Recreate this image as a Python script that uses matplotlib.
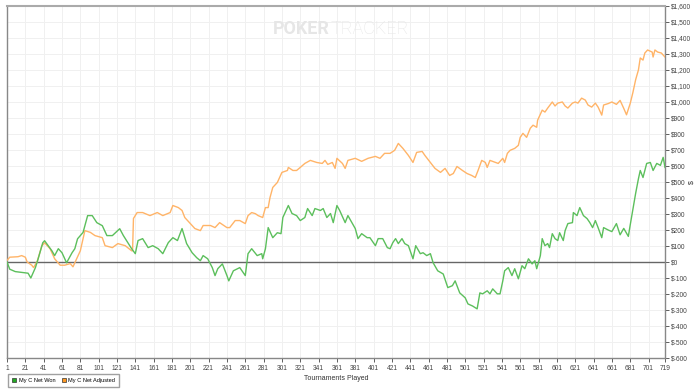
import matplotlib.pyplot as plt
from matplotlib.patches import Patch
from matplotlib.ticker import FuncFormatter

# tournament number / running result for each series
won_t = [1, 4, 10, 17, 24, 27, 32, 35, 40, 42, 50, 53, 57, 61, 66, 72, 75, 78, 84, 89,
         94, 99, 105, 110, 116, 124, 128, 135, 137, 141, 144, 149, 155, 160, 166, 171, 177, 182, 187, 192,
         197, 203, 208, 212, 215, 220, 225, 228, 231, 236, 241, 243, 248, 255, 261, 264, 268, 274, 279, 280,
         283, 286, 291, 296, 300, 302, 308, 312, 317, 321, 326, 329, 334, 337, 343, 346, 350, 354, 357, 361,
         364, 370, 373, 381, 384, 388, 394, 397, 403, 406, 411, 416, 419, 422, 425, 428, 432, 435, 439, 444,
         447, 452, 455, 459, 463, 466, 471, 477, 482, 487, 490, 495, 501, 504, 509, 514, 517, 520, 525, 528,
         531, 536, 539, 542, 544, 548, 552, 555, 559, 563, 566, 570, 574, 577, 579, 583, 585, 588, 591, 593,
         596, 599, 602, 604, 608, 610, 613, 618, 619, 623, 626, 630, 634, 637, 640, 643, 646, 650, 652, 657,
         661, 666, 670, 674, 679, 681, 684, 687, 690, 692, 695, 699, 703, 706, 710, 714, 717, 719]
won_v = [0, -45, -60, -65, -70, -100, -35, 20, 120, 133, 70, 40, 83, 58, -5, 58, 83, 145, 185, 290,
         290, 246, 227, 165, 165, 208, 165, 102, 83, 52, 134, 146, 90, 102, 83, 52, 121, 152, 134, 209,
         115, 58, 27, 8, 40, 20, -35, -85, -42, -12, -85, -118, -55, -35, -85, 52, 83, 40, 52, 20,
         83, 215, 152, 183, 177, 278, 353, 303, 290, 259, 278, 334, 290, 334, 322, 334, 278, 303, 246, 353,
         322, 246, 290, 209, 146, 177, 152, 152, 102, 146, 146, 90, 83, 121, 146, 115, 146, 115, 102, 20,
         102, 52, 58, 40, 52, -5, -55, -75, -160, -148, -118, -193, -224, -262, -275, -293, -193, -199, -180, -199,
         -168, -199, -199, -118, -55, -35, -85, -42, -105, -23, -42, 20, -12, 8, -42, 40, 146, 102, 115, 90,
         177, 146, 134, 183, 134, 196, 240, 246, 309, 290, 340, 290, 271, 246, 215, 259, 215, 152, 215, 200,
         190, 240, 170, 210, 160, 230, 330, 430, 520, 572, 528, 616, 622, 572, 616, 604, 654, 591]

adj_t = [1, 4, 13, 17, 21, 23, 28, 30, 34, 39, 42, 48, 53, 59, 64, 70, 73, 77, 81, 86,
         92, 97, 105, 108, 116, 122, 130, 137, 138, 139, 143, 149, 157, 165, 171, 179, 182, 188, 192, 195,
         201, 206, 212, 215, 223, 228, 233, 241, 244, 250, 255, 261, 264, 268, 272, 275, 280, 283, 286, 288,
         291, 296, 301, 307, 308, 313, 317, 321, 326, 332, 339, 345, 348, 351, 356, 359, 361, 367, 370, 373,
         381, 388, 395, 403, 408, 413, 419, 424, 428, 433, 439, 444, 448, 454, 457, 463, 468, 474, 479, 484,
         488, 492, 498, 503, 508, 512, 515, 519, 523, 525, 528, 534, 537, 542, 544, 547, 550, 555, 559, 561,
         564, 568, 572, 575, 579, 580, 585, 588, 591, 596, 599, 602, 607, 610, 613, 618, 621, 624, 628, 632,
         635, 639, 643, 646, 650, 652, 657, 661, 666, 670, 674, 677, 681, 684, 687, 690, 692, 695, 697, 700,
         705, 706, 708, 711, 715, 719]
adj_v = [10, 30, 33, 40, 30, 0, -20, -35, 5, 100, 120, 83, 20, -20, -20, -10, -30, 20, 70, 196,
         185, 165, 152, 102, 90, 115, 102, 70, 70, 272, 309, 309, 290, 309, 290, 309, 353, 340, 322, 278,
         240, 209, 196, 228, 228, 215, 246, 215, 215, 259, 259, 240, 290, 309, 302, 290, 278, 340, 340, 403,
         466, 497, 560, 572, 591, 572, 572, 591, 616, 635, 622, 616, 635, 610, 622, 585, 648, 616, 585, 635,
         648, 629, 648, 660, 648, 679, 679, 698, 741, 710, 666, 622, 685, 691, 666, 622, 585, 560, 585, 541,
         553, 597, 572, 553, 541, 528, 572, 635, 622, 591, 635, 622, 616, 648, 622, 679, 698, 710, 729, 779,
         804, 779, 836, 855, 842, 886, 949, 937, 962, 1000, 975, 993, 1000, 975, 962, 993, 1000, 993, 1024, 1012,
         981, 968, 993, 968, 918, 981, 990, 1000, 985, 1010, 960, 920, 990, 1060, 1140, 1200, 1275, 1262, 1306, 1325,
         1312, 1281, 1325, 1312, 1306, 1281]

x_ticks = list(range(1, 702, 20)) + [719]

green = '#5cbf5c'
orange = '#ffb468'
font = 'Liberation Sans'

fig = plt.figure(figsize=(7, 3.91), dpi=100)
ax = fig.add_axes([0.01, 0.0844, 0.94, 0.9003])
ax.set_axisbelow(True)

ax.plot(won_t, won_v, color=green, lw=1.0, zorder=4)
ax.plot(adj_t, adj_v, color=orange, lw=1.0, zorder=3)
ax.axhline(0, color='#666666', lw=1.0, zorder=2)

ax.set_xlim(1, 719)
ax.set_ylim(-600, 1600)
ax.set_xticks(x_ticks)
ax.set_yticks(range(-600, 1601, 100))
ax.yaxis.tick_right()
ax.yaxis.set_major_formatter(FuncFormatter(lambda v, p: '$' + format(int(v), ',')))
ax.tick_params(axis='both', labelsize=4.8, colors='#444444', length=3, width=0.6)
ax.tick_params(axis='x', pad=2)
ax.tick_params(axis='y', pad=1)
for lab in ax.get_xticklabels() + ax.get_yticklabels():
    lab.set_family(font)
ax.grid(True, color='#f0f0f0', lw=0.7)

for side in ['left', 'bottom', 'right']:
    ax.spines[side].set_color('#888888')
    ax.spines[side].set_linewidth(1.0)
ax.spines['top'].set_color('#aaaaaa')
ax.spines['top'].set_linewidth(1.5)

ax.set_xlabel('Tournaments Played', fontsize=5, color='#333333', labelpad=2, family=font)
ax.text(1.041, 0.5, '$', transform=ax.transAxes, rotation=90, ha='center', va='center',
        fontsize=5, color='#333333', family=font)

# watermark
ax.text(0.491, 0.935, 'POKER', transform=ax.transAxes, ha='right', va='center',
        fontsize=13, fontweight='bold', color='#e6e6e6', family='Roboto')
ax.text(0.491, 0.935, 'TRACKER', transform=ax.transAxes, ha='left', va='center',
        fontsize=13, fontweight='light', color='#e6e6e6', family='Roboto')

handles = [Patch(facecolor='#22aa22', edgecolor='#333333', lw=0.5, label='My C Net Won'),
           Patch(facecolor='#ff9922', edgecolor='#333333', lw=0.5, label='My C Net Adjusted')]
leg = fig.legend(handles=handles, loc='lower left', bbox_to_anchor=(0.008, 0.003), ncol=2,
                 prop={'family': font, 'size': 4.1}, frameon=True, fancybox=False,
                 handlelength=0.7, handleheight=0.7, handletextpad=0.4, columnspacing=1.1,
                 borderpad=0.7)
leg.get_frame().set_edgecolor('#888888')
leg.get_frame().set_linewidth(1.0)

fig.savefig('out.png', dpi=100)
